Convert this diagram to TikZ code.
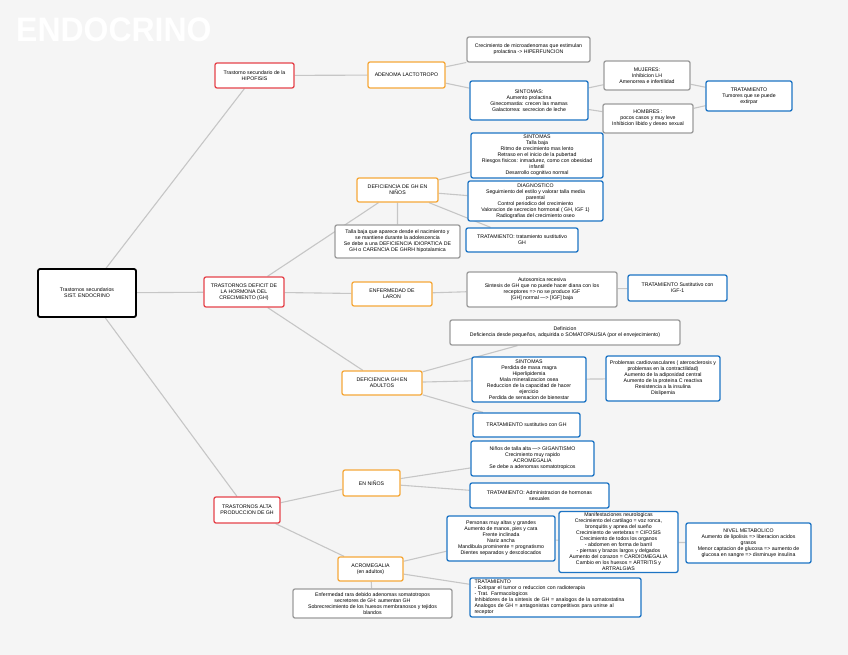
\documentclass[tikz,border=0pt]{standalone}
\usepackage{fontspec}
\setmainfont{Liberation Sans}
\usetikzlibrary{backgrounds}
\definecolor{bgc}{HTML}{F5F5F5}
\definecolor{redc}{HTML}{E5434B}
\definecolor{orc}{HTML}{F5A83A}
\definecolor{bluc}{HTML}{1D74C4}
\definecolor{gryc}{HTML}{9C9C9C}
\definecolor{linc}{HTML}{C6C6C6}
\tikzset{
  base/.style={draw, fill=white, rounded corners=2pt, line width=1.3pt, align=center,
    inner sep=1.5pt, font=\fontsize{5.2}{6}\selectfont},
  rbox/.style={base, draw=redc},
  obox/.style={base, draw=orc},
  bbox/.style={base, draw=bluc},
  gbox/.style={base, draw=gryc},
  kbox/.style={base, draw=black, line width=1.8pt},
  conn/.style={draw=linc, line width=1.1pt},
}
\begin{document}
\begin{tikzpicture}[x=1pt,y=-1pt]
\useasboundingbox (0,0) rectangle (848,655);
\node[anchor=west, text=white, font=\bfseries\fontsize{34}{34}\selectfont, inner sep=0pt] (title) at (16,29.5) {\scalebox{0.94}[1]{ENDOCRINO}};

% main
\node[kbox, minimum width=98, minimum height=48] (root) at (87,293) {Trastornos secundarios\\SIST. ENDOCRINO};
\node[rbox, minimum width=79, minimum height=25] (r1) at (254.5,75.5) {Trastorno secundario de la\\HIPOFISIS};
\node[rbox, minimum width=80, minimum height=30] (r2) at (244,292) {TRASTORNOS DEFICIT DE\\LA HORMONA DEL\\CRECIMIENTO (GH)};
\node[rbox, minimum width=66, minimum height=26] (r3) at (247,510) {TRASTORNOS ALTA\\PRODUCCION DE GH};

% orange
\node[obox, minimum width=77, minimum height=26] (o1) at (406.5,75) {ADENOMA LACTOTROPO};
\node[obox, minimum width=81, minimum height=24] (o2) at (397.5,190) {DEFICIENCIA DE GH EN\\NIÑOS};
\node[obox, minimum width=80, minimum height=24] (o3) at (392,294) {ENFERMEDAD DE\\LARON};
\node[obox, minimum width=80, minimum height=24] (o4) at (382,383) {DEFICIENCIA GH EN\\ADULTOS};
\node[obox, minimum width=57, minimum height=26] (o5) at (371.5,483) {EN NIÑOS};
\node[obox, minimum width=65, minimum height=24] (o6) at (370.5,569) {ACROMEGALIA\\(en adultos)};

% gray
\node[gbox, minimum width=123, minimum height=25] (g1) at (528.5,49.5) {Crecimiento de microadenomas que estimulan\\prolactina -> HIPERFUNCION};
\node[gbox, minimum width=86, minimum height=29] (g2) at (647,75.5) {MUJERES:\\Inhibicion LH\\Amenorrea e infertilidad};
\node[gbox, minimum width=90, minimum height=29] (g3) at (648,118.5) {HOMBRES :\\pocos casos y muy leve\\Inhibicion libido y deseo sexual};
\node[gbox, minimum width=125, minimum height=33] (g4) at (397.5,241.5) {Talla baja que aparece desde el nacimiento y\\se mantiene durante la adolescencia\\Se debe a una DEFICIENCIA IDIOPATICA DE\\GH o CARENCIA DE GHRH hipotalamica};
\node[gbox, minimum width=150, minimum height=35] (g5) at (542,289.5) {Autosomica recesiva\\Sintesis de GH que no puede hacer diana con los\\receptores => no se produce IGF\\{[}GH{]} normal ---> {[}IGF{]} baja};
\node[gbox, minimum width=230, minimum height=25] (g6) at (565,332.5) {Definicion\\Deficiencia desde pequeños, adquirida o SOMATOPAUSIA (por el envejecimiento)};
\node[gbox, minimum width=159, minimum height=29] (g7) at (372.5,603.5) {Enfermedad rara debido adenomas somatotropos\\secretores de GH: aumentan GH\\Sobrecrecimiento de los huesos membranosos y tejidos\\blandos};

% blue
\node[bbox, minimum width=118, minimum height=39] (b1) at (529,100.5) {SINTOMAS:\\Aumento prolactina\\Ginecomastia: crecen las mamas\\Galactorrea: secrecion de leche};
\node[bbox, minimum width=86, minimum height=30] (b2) at (749,96) {TRATAMIENTO\\Tumores que se puede\\extirpar};
\node[bbox, minimum width=132, minimum height=45] (b3) at (537,155.5) {SINTOMAS\\Talla baja\\Ritmo de crecimiento mas lento\\Retraso en el inicio de la pubertad\\Riesgos fisicos: inmadurez, como con obesidad\\infantil\\Desarrollo cognitivo normal};
\node[bbox, minimum width=135, minimum height=40] (b4) at (535.5,201) {DIAGNOSTICO\\Seguimiento del estilo y valorar talla media\\parental\\Control periodico del crecimiento\\Valoracion de secrecion hormonal ( GH, IGF 1)\\Radiografias del crecimiento oseo};
\node[bbox, minimum width=112, minimum height=24] (b5) at (522,240) {TRATAMIENTO: tratamiento sustitutivo\\GH};
\node[bbox, minimum width=99, minimum height=26] (b6) at (677.5,288) {TRATAMIENTO Sustitutivo con\\IGF-1};
\node[bbox, minimum width=114, minimum height=45] (b7) at (529,379.5) {SINTOMAS\\Perdida de masa magra\\Hiperlipidemia\\Mala mineralizacion osea\\Reduccion de la capacidad de hacer\\ejercicio\\Perdida de sensacion de bienestar};
\node[bbox, minimum width=114, minimum height=45] (b8) at (663,378.5) {Problemas cardiovasculares ( aterosclerosis y\\problemas en la contractilidad)\\Aumento de la adiposidad central\\Aumento de la proteina C reactiva\\Resistencia a la insulina\\Dislipemia};
\node[bbox, minimum width=107, minimum height=24] (b9) at (526.5,425) {TRATAMIENTO sustitutivo con GH};
\node[bbox, minimum width=123, minimum height=35] (b10) at (532.5,458.5) {Niños de talla alta ---> GIGANTISMO\\Crecimiento muy rapido\\ACROMEGALIA\\Se debe a adenomas somatotropicos};
\node[bbox, minimum width=139, minimum height=25] (b11) at (539.5,495.5) {TRATAMIENTO: Administracion de hormonas\\sexuales};
\node[bbox, minimum width=108, minimum height=45] (b12) at (501,538.5) {Personas muy altas y grandes\\Aumento de manos, pies y cara\\Frente inclinada\\Nariz ancha\\Mandibula prominente = prognatismo\\Dientes separados y descolocados};
\node[bbox, minimum width=119, minimum height=60] (b13) at (618.5,542) {Manifestaciones neurologicas\\Crecimiento del cartilago = voz ronca,\\bronquitis y apnea del sueño\\Crecimiento de vertebras = CIFOSIS\\Crecimiento de todos los organos\\- abdomen en forma de barril\\- piernas y brazos largos y delgados\\Aumento del corazon = CARDIOMEGALIA\\Cambio en los huesos = ARTRITIS y\\ARTRALGIAS};
\node[bbox, minimum width=125, minimum height=40] (b14) at (748.5,543) {NIVEL METABOLICO\\Aumento de lipolisis => liberacion acidos\\grasos\\Menor captacion de glucosa => aumento de\\glucosa en sangre => disminuye insulina};
\node[bbox, minimum width=171, minimum height=39, text width=162, align=left] (b15) at (555.5,597.5) {TRATAMIENTO\\- Extirpar el tumor o reduccion con radioterapia\\- Trat. Farmacologicos\\Inhibidores de la sintesis de GH = analogos de la somatostatina\\Analogos de GH = antagonistas competitivos para unirse al\\receptor};

% connectors (behind the boxes)
\begin{pgfonlayer}{background}
\fill[bgc] (0,0) rectangle (848,655);
\path[conn] (root) -- (r1) (root) -- (r2) (root) -- (r3)
  (r1) -- (o1) (o1) -- (g1) (o1) -- (b1) (b1) -- (g2) (b1) -- (g3) (g2) -- (b2) (g3) -- (b2)
  (r2) -- (o2) (o2) -- (b3) (o2) -- (b4) (o2) -- (b5) (o2) -- (g4)
  (r2) -- (o3) (o3) -- (g5) (g5) -- (b6)
  (r2) -- (o4) (o4) -- (g6) (o4) -- (b7) (o4) -- (b9) (b7) -- (b8)
  (r3) -- (o5) (o5) -- (b10) (o5) -- (b11)
  (r3) -- (o6) (o6) -- (b12) (o6) -- (b15) (o6) -- (g7) (b12) -- (b13) (b13) -- (b14);
\end{pgfonlayer}
\end{tikzpicture}
\end{document}
